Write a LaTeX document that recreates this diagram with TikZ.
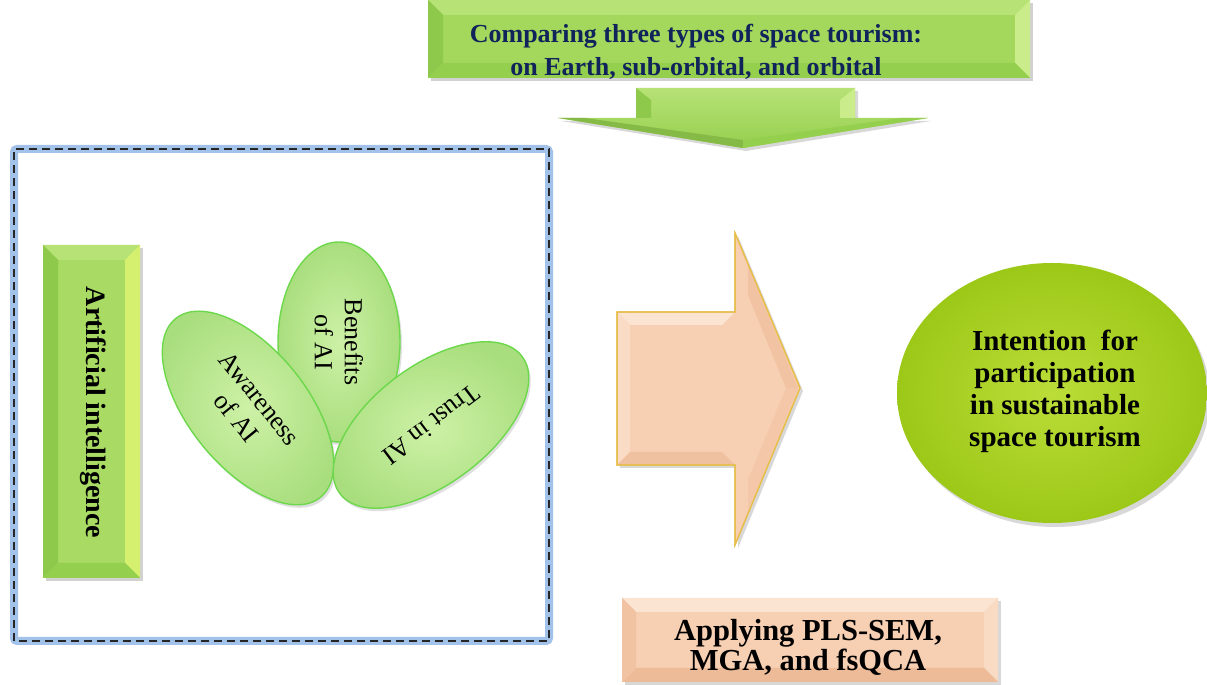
\documentclass[tikz,border=0pt]{standalone}
\usepackage{fontspec}
\setmainfont{Liberation Serif}
\usetikzlibrary{shapes.geometric,shadows,calc}
\definecolor{gmain}{HTML}{A3D85C}
\definecolor{gtop}{HTML}{B7E276}
\definecolor{gbot}{HTML}{95CF4E}
\definecolor{gright}{HTML}{CBEC8A}
\definecolor{gleft}{HTML}{8FC94C}
\definecolor{navy}{HTML}{10235A}
\definecolor{leafin}{HTML}{CDF1A6}
\definecolor{leafout}{HTML}{A9DE7E}
\definecolor{leafline}{HTML}{6ED84C}
\definecolor{limein}{HTML}{BCDD38}
\definecolor{limeout}{HTML}{9CC818}
\definecolor{peach}{HTML}{F7CFB2}
\definecolor{peachlt}{HTML}{FCE4D3}
\definecolor{peachdk}{HTML}{EDBB98}
\definecolor{gold}{HTML}{E7BE48}
\definecolor{glow}{HTML}{A3C2EA}
\newcommand\bevelfaces[6]{%
 \fill[#3] (#1.north west) -- (#1.north east) -- ($(#1.north east)+(-#2,-#2)$) -- ($(#1.north west)+(#2,-#2)$) -- cycle;
 \fill[#4] (#1.north east) -- (#1.south east) -- ($(#1.south east)+(-#2,#2)$) -- ($(#1.north east)+(-#2,-#2)$) -- cycle;
 \fill[#5] (#1.south east) -- (#1.south west) -- ($(#1.south west)+(#2,#2)$) -- ($(#1.south east)+(-#2,#2)$) -- cycle;
 \fill[#6] (#1.south west) -- (#1.north west) -- ($(#1.north west)+(#2,-#2)$) -- ($(#1.south west)+(#2,#2)$) -- cycle;
}
\tikzset{
  shapebox/.style={rectangle, inner sep=0pt, outer sep=0pt},
  greenbox/.style={shapebox, fill=gmain, drop shadow={opacity=0.35, shadow xshift=3pt, shadow yshift=-3pt}},
  peachbox/.style={shapebox, fill=peach, drop shadow={opacity=0.3, shadow xshift=3pt, shadow yshift=-3pt}},
  leaf/.style={ellipse, inner sep=0pt, inner color=leafin, outer color=leafout, draw=leafline, line width=1.4pt,
     drop shadow={opacity=0.25, shadow xshift=2pt, shadow yshift=-3pt},
     align=center, font=\fontsize{26pt}{30pt}\selectfont},
  boldtext/.style={align=center, inner sep=0pt, font=\fontsize{26pt}{31pt}\selectfont\bfseries},
}
\begin{document}
\begin{tikzpicture}[x=1pt,y=1pt]
\useasboundingbox (0,0) rectangle (1207,685);
\fill[white] (0,0) rectangle (1207,685);

% ---- top banner with down arrow
\path[top color=gtop, bottom color=gbot, drop shadow={opacity=0.3, shadow xshift=3pt, shadow yshift=-3pt}]
  (636,597) -- (855,597) -- (855,567) -- (928,567) -- (743,537) -- (558,567) -- (636,567) -- cycle;
\fill[gleft] (636,597) -- (651,585) -- (651,567) -- (636,567) -- cycle;
\fill[gright] (855,597) -- (840,585) -- (840,567) -- (855,567) -- cycle;
\fill[gbot!90!black] (558,567) -- (743,537) -- (743,545) -- (585,567) -- cycle;
\fill[gbot] (928,567) -- (743,537) -- (743,545) -- (901,567) -- cycle;
\node[greenbox, minimum width=602pt, minimum height=78pt] (title) at (729,646) {};
\bevelfaces{title}{15pt}{gtop}{gright}{gbot}{gleft}
\node[boldtext, font=\fontsize{26pt}{33pt}\selectfont\bfseries, text=navy] (titletext) at (696,633)
  {Comparing three types of space tourism:\\on Earth, sub-orbital, and orbital};

% ---- dashed frame
\draw[glow, line width=8pt, rounded corners=3pt] (14,44) rectangle (549,536);
\draw[black!85, line width=1.6pt, dash pattern=on 8pt off 5pt] (14,44) rectangle (549,536);

% ---- artificial intelligence bar
\node[greenbox, fill=gmain!95!white, minimum width=97pt, minimum height=333pt] (aibar) at (91.5,273.5) {};
\bevelfaces{aibar}{15pt}{gtop}{gright!80!yellow}{gbot}{gleft}
\node[boldtext, font=\fontsize{28pt}{31pt}\selectfont\bfseries, rotate=-90] (aitext) at (93,272.5) {Artificial intelligence};

% ---- leaves
\node[leaf, minimum width=200pt, minimum height=122pt, rotate=-90] (benefits) at (339,343) {Benefits\\of AI};
\node[leaf, minimum width=230pt, minimum height=118pt, rotate=-51] (awareness) at (248,277) {Awareness\\of AI};
\node[leaf, minimum width=228pt, minimum height=118pt, rotate=-143] (trust) at (431,260) {Trust in AI};

% ---- peach arrow
\path[fill=peach, draw=gold, line width=1.2pt, drop shadow={opacity=0.3, shadow xshift=3pt, shadow yshift=-3pt}]
  (617,373) -- (735,373) -- (735,452) -- (800,297) -- (735,140) -- (735,220) -- (617,220) -- cycle;
\fill[peachlt] (618,372) -- (734,372) -- (722,360) -- (630,360) -- cycle;
\fill[peachlt!60!peach] (618,372) -- (630,360) -- (630,233) -- (618,221) -- cycle;
\fill[peachdk!70!peach] (618,221) -- (734,221) -- (722,233) -- (630,233) -- cycle;
\fill[peachdk!60!peach] (736,448) -- (798,297) -- (786,297) -- (748,390) -- (748,420) -- cycle;
\fill[peachdk!40!peach] (736,144) -- (798,297) -- (786,297) -- (748,205) -- (748,175) -- cycle;
\draw[gold, line width=1.2pt] (617,373) -- (735,373) -- (735,452) -- (800,297) -- (735,140) -- (735,220) -- (617,220) -- cycle;
\coordinate (peacharrow) at (708,297);

% ---- intention circle
\node[ellipse, inner sep=0pt, minimum width=310pt, minimum height=260pt, inner color=limein, outer color=limeout,
      drop shadow={opacity=0.3, shadow xshift=3pt, shadow yshift=-4pt}] (intent) at (1052,292) {};
\node[boldtext, font=\fontsize{29pt}{32pt}\selectfont\bfseries] (intenttext) at (1055,294)
  {Intention\ \ for\\participation\\in sustainable\\space tourism};

% ---- applying box
\node[peachbox, minimum width=376pt, minimum height=84pt] (apply) at (810,45) {};
\bevelfaces{apply}{14pt}{peachlt}{peachlt!50!peach}{peachdk}{peachdk!60!peach}
\node[boldtext, font=\fontsize{30.5pt}{30pt}\selectfont\bfseries] (applytext) at (808,38)
  {Applying PLS-SEM,\\MGA, and fsQCA};
\end{tikzpicture}
\end{document}
